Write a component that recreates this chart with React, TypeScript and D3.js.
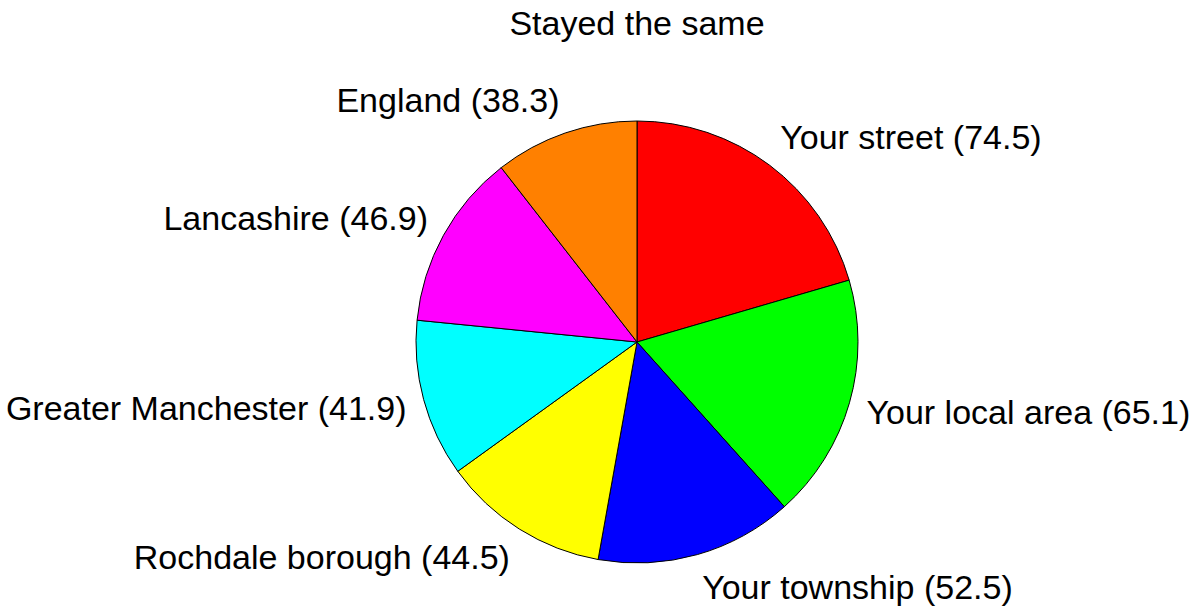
import React from 'react';
import * as d3 from 'd3';

const title = 'Stayed the same';
const categories = ['Your street', 'Your local area', 'Your township', 'Rochdale borough', 'Greater Manchester', 'Lancashire', 'England'];
const values = [74.5, 65.1, 52.5, 44.5, 41.9, 46.9, 38.3];
const colors = ['#ff0000', '#00ff00', '#0000ff', '#ffff00', '#00ffff', '#ff00ff', '#ff8000'];

const W = 1192;
const H = 609;

const App = () => {
    const cx = 637;
    const cy = 342;
    const r = 221;
    const fontSize = 34;
    const labelRx = r * 1.08;
    const labelRy = r * 1.1 + 12;

    const pie = d3.pie<number>().sort(null).startAngle(0).endAngle(2 * Math.PI);
    const arcs = pie(values);
    const arc = d3.arc<d3.PieArcDatum<number>>().innerRadius(0).outerRadius(r);

    return (
        <svg width={W} height={H} style={{ position: 'absolute', left: 0, top: 0, background: '#fff' }}
            fontFamily='"Liberation Sans", Arial, sans-serif' fontSize={fontSize}>
            <text x={cx} y={35} textAnchor="middle" fill="#000">{title}</text>
            <g transform={`translate(${cx},${cy})`}>
                {arcs.map((a, i) => (
                    <path key={categories[i]} d={arc(a) || ''} fill={colors[i]} stroke="#000" strokeWidth={1} strokeLinejoin="round" />
                ))}
                {arcs.map((a, i) => {
                    const mid = (a.startAngle + a.endAngle) / 2;
                    const sx = Math.sin(mid);
                    const cs = Math.cos(mid);
                    // labels sit just outside the pie, pushed a bit further vertically
                    const x = labelRx * sx;
                    const y = -labelRy * cs + fontSize * 0.34;
                    return (
                        <text key={'l' + i} x={x} y={y} textAnchor={sx < 0 ? 'end' : 'start'} fill="#000">
                            {`${categories[i]} (${values[i].toFixed(1)})`}
                        </text>
                    );
                })}
            </g>
        </svg>
    );
};

export default App;
